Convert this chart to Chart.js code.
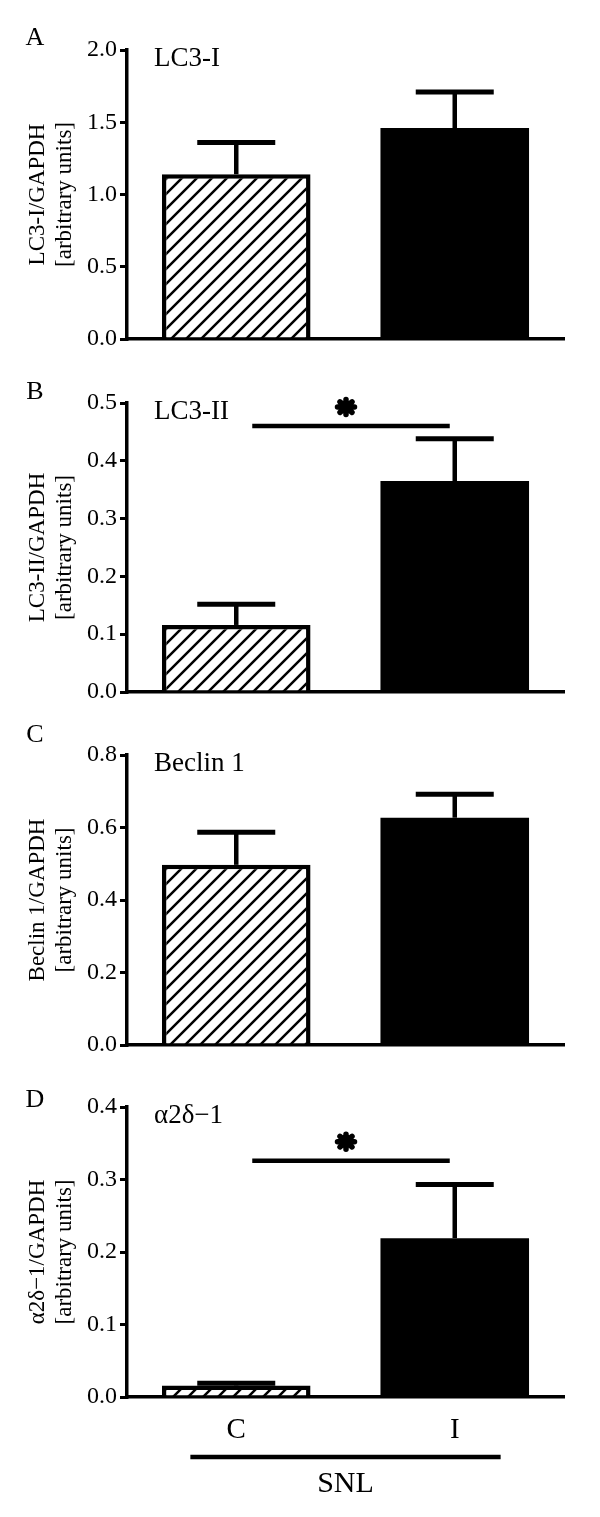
<!DOCTYPE html>
<html>
<head>
<meta charset="utf-8">
<script src="https://cdn.jsdelivr.net/npm/chart.js@4"></script>
<style>
body { margin: 0; background: #fff; }
#wrap { position: relative; width: 600px; height: 1517px; }
canvas { position: absolute; left: 0; }
</style>
</head>
<body>
<div id="wrap">
  <canvas id="chartA" width="600" height="360" style="top:0px"></canvas>
  <canvas id="chartB" width="600" height="360" style="top:360px"></canvas>
  <canvas id="chartC" width="600" height="355" style="top:720px"></canvas>
  <canvas id="chartD" width="600" height="442" style="top:1075px"></canvas>
</div>
<script>
// data
var groups = ["C", "I"];
var groupLabel = "SNL";
var panelLetters = ["A", "B", "C", "D"];
var proteins = ["LC3-I", "LC3-II", "Beclin 1", "α2δ−1"];
var yTitles = [
  ["LC3-I/GAPDH", "[arbitrary units]"],
  ["LC3-II/GAPDH", "[arbitrary units]"],
  ["Beclin 1/GAPDH", "[arbitrary units]"],
  ["α2δ−1/GAPDH", "[arbitrary units]"]
];
var yMax = [2.0, 0.5, 0.8, 0.4];
var yStep = [0.5, 0.1, 0.2, 0.1];
var meanC = [1.14, 0.116, 0.497, 0.016];
var meanI = [1.46, 0.365, 0.627, 0.219];
var semC = [0.22, 0.036, 0.09, 0.003];
var semI = [0.25, 0.073, 0.065, 0.074];
var sigLine = [null, 0.46, null, 0.326]; // * bar height, null = no marker

// layout bits
var ids = ["chartA", "chartB", "chartC", "chartD"];
var padTop = [50, 43, 35, 32];
var xBoxHeight = [21, 28, 30, 120];
var letterDy = [-12, -11, -20, -7];
var serif = "'Liberation Serif', 'Times New Roman', serif";

function hatchFor(ctx) {
  var s = 15;
  var tile = document.createElement("canvas");
  tile.width = s; tile.height = s;
  var g = tile.getContext("2d");
  g.fillStyle = "#fff";
  g.fillRect(0, 0, s, s);
  g.strokeStyle = "#000";
  g.lineWidth = 2.5;
  g.beginPath();
  g.moveTo(0, s); g.lineTo(s, 0);
  g.moveTo(-3, 3); g.lineTo(3, -3);
  g.moveTo(s - 3, s + 3); g.lineTo(s + 3, s - 3);
  g.stroke();
  return ctx.createPattern(tile, "repeat");
}

var extras = {
  id: "extras",
  afterDatasetsDraw: function(chart, args, opts) {
    var i = opts.panel;
    var ctx = chart.ctx, x = chart.scales.x, y = chart.scales.y, area = chart.chartArea;
    ctx.save();
    ctx.strokeStyle = "#000";
    ctx.fillStyle = "#000";

    // upper error bars
    var means = [meanC[i], meanI[i]];
    var sems = [semC[i], semI[i]];
    for (var k = 0; k < groups.length; k++) {
      var cx = x.getPixelForValue(k);
      var y0 = y.getPixelForValue(means[k]);
      var y1 = y.getPixelForValue(means[k] + sems[k]);
      ctx.lineWidth = 4.5;
      ctx.beginPath(); ctx.moveTo(cx, y0); ctx.lineTo(cx, y1); ctx.stroke();
      ctx.lineWidth = 5;
      ctx.beginPath(); ctx.moveTo(cx - 39, y1); ctx.lineTo(cx + 39, y1); ctx.stroke();
    }

    // significance bar + asterisk
    if (sigLine[i] !== null) {
      var sy = y.getPixelForValue(sigLine[i]);
      var xa = x.getPixelForValue(0) + 16, xb = x.getPixelForValue(1) - 5;
      ctx.lineWidth = 4.5;
      ctx.beginPath(); ctx.moveTo(xa, sy); ctx.lineTo(xb, sy); ctx.stroke();
      var ax = (xa + xb) / 2 - 5, ay = sy - 19;
      ctx.lineWidth = 5.5;
      ctx.lineCap = "round";
      ctx.beginPath();
      for (var a = 0; a < 4; a++) {
        var t = a * Math.PI / 4;
        ctx.moveTo(ax - 8.5 * Math.cos(t), ay - 7.5 * Math.sin(t));
        ctx.lineTo(ax + 8.5 * Math.cos(t), ay + 7.5 * Math.sin(t));
      }
      ctx.stroke();
      ctx.lineCap = "butt";
    }

    // panel letter and protein name
    ctx.textBaseline = "middle";
    ctx.font = "26px " + serif;
    ctx.textAlign = "center";
    ctx.fillText(panelLetters[i], area.left - 92, area.top + letterDy[i]);
    ctx.font = "27px " + serif;
    ctx.textAlign = "left";
    ctx.fillText(proteins[i], area.left + 27, area.top + 9);

    // SNL bracket under the last panel
    if (i === 3) {
      var mid = (x.getPixelForValue(0) + x.getPixelForValue(1)) / 2;
      var half = (x.getPixelForValue(1) - x.getPixelForValue(0)) * 0.71;
      ctx.lineWidth = 4.5;
      ctx.beginPath();
      ctx.moveTo(mid - half, area.bottom + 60);
      ctx.lineTo(mid + half, area.bottom + 60);
      ctx.stroke();
      ctx.font = "30px " + serif;
      ctx.textAlign = "center";
      ctx.fillText(groupLabel, mid, area.bottom + 87);
    }
    ctx.restore();
  }
};

for (var i = 0; i < 4; i++) {
  var el = document.getElementById(ids[i]);
  var ctx = el.getContext("2d");
  (function(i) {
    new Chart(el, {
      type: "bar",
      data: {
        labels: groups,
        datasets: [{
          data: [meanC[i], meanI[i]],
          backgroundColor: [hatchFor(ctx), "#000"],
          borderColor: "#000",
          borderWidth: [4.5, 0],
          barPercentage: 0.68,
          categoryPercentage: 1.0
        }]
      },
      options: {
        responsive: false,
        animation: false,
        devicePixelRatio: 1,
        layout: { padding: { top: padTop[i], right: 36, bottom: 0, left: 0 } },
        plugins: {
          legend: { display: false },
          tooltip: { enabled: false },
          extras: { panel: i }
        },
        scales: {
          x: {
            grid: { display: false },
            border: { display: true, color: "#000", width: 3.5 },
            ticks: {
              display: i === 3,
              color: "#000",
              padding: 8,
              font: { family: serif, size: 29 },
              maxRotation: 0
            },
            afterFit: function(s) { s.height = xBoxHeight[i]; }
          },
          y: {
            min: 0,
            max: yMax[i],
            grid: { display: true, drawOnChartArea: false, drawTicks: true, tickLength: 7, color: "#000", lineWidth: 3 },
            border: { display: true, color: "#000", width: 3.5 },
            ticks: {
              stepSize: yStep[i],
              color: "#000",
              padding: 3,
              font: { family: serif, size: 24 },
              callback: function(v) { return v.toFixed(1); }
            },
            title: {
              display: true,
              text: yTitles[i],
              color: "#000",
              font: { family: serif, size: 23, lineHeight: 1.2 },
              padding: { top: 24, bottom: 0 }
            },
            afterFit: function(s) { s.width = 127; }
          }
        }
      },
      plugins: [extras]
    });
  })(i);
}
</script>
</body>
</html>
